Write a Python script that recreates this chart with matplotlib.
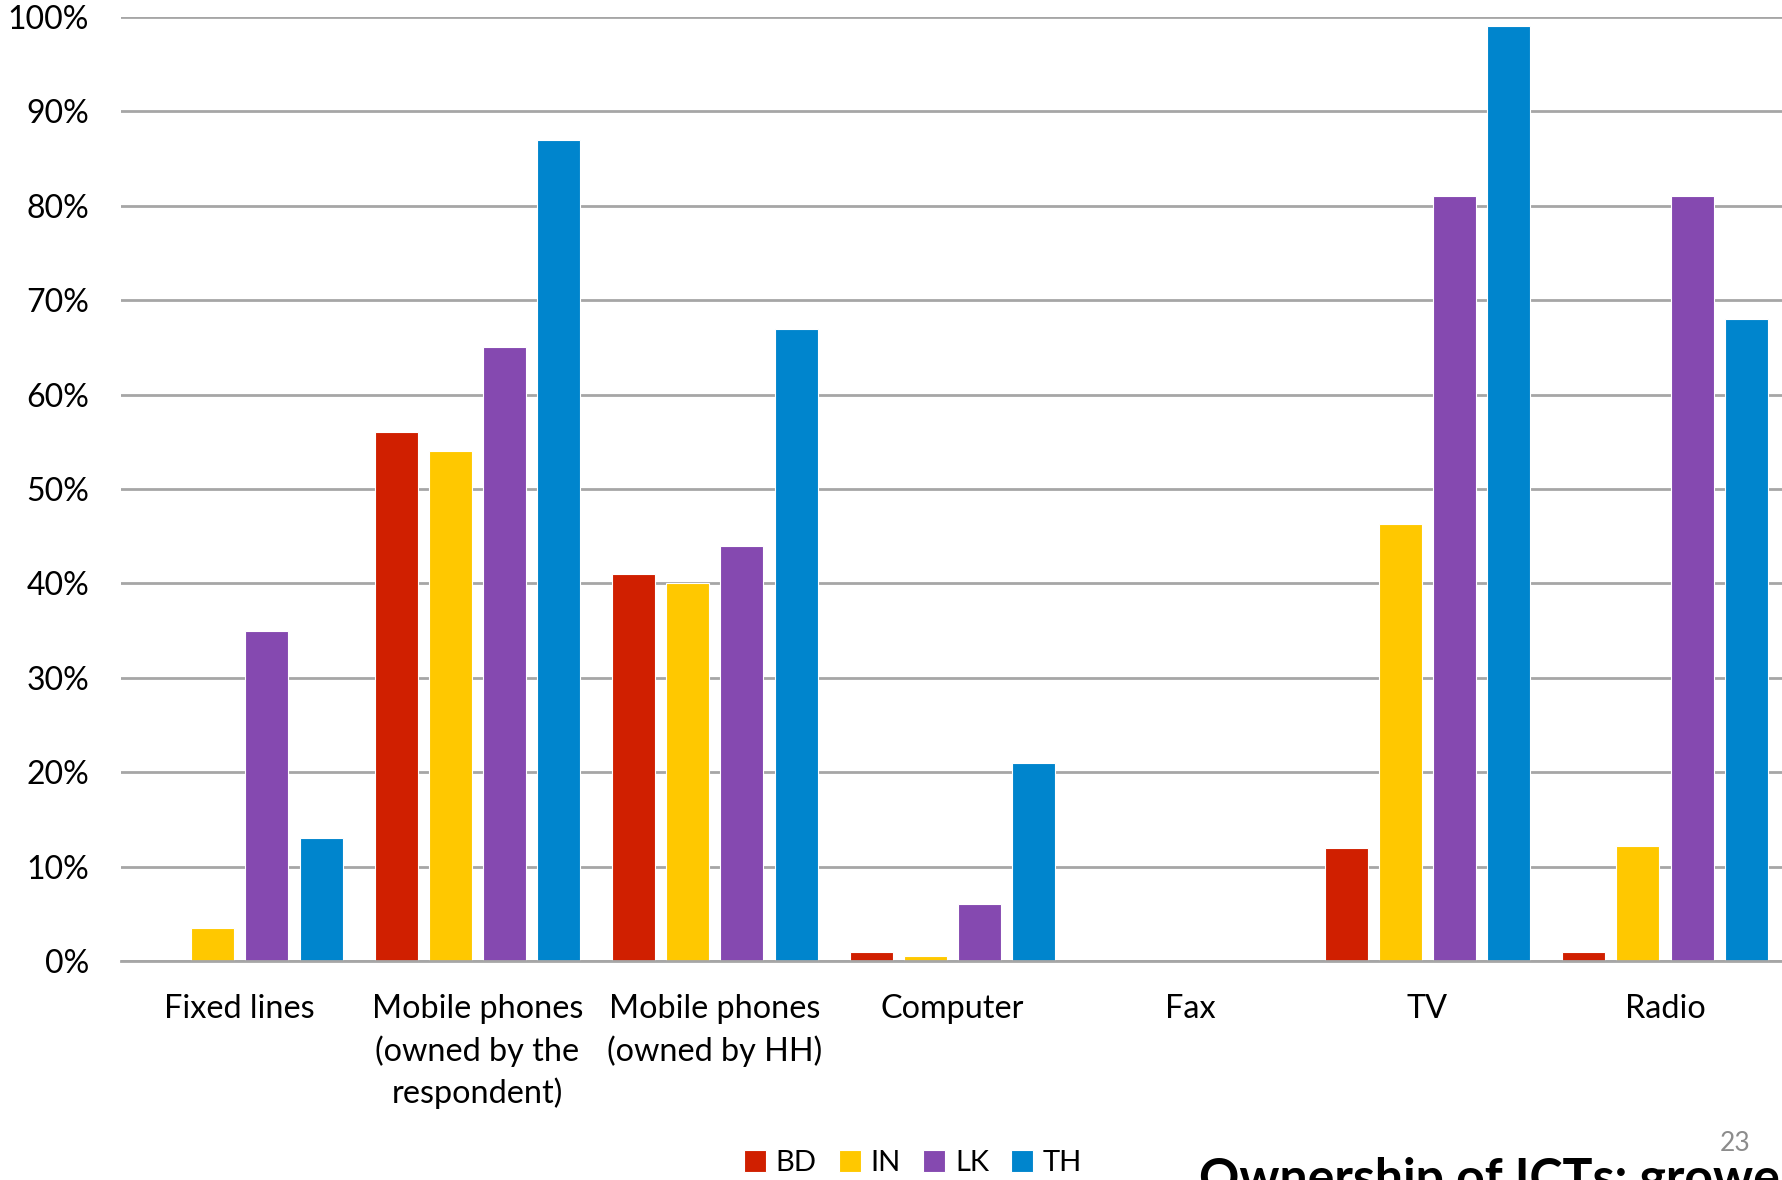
import numpy as np
import matplotlib
matplotlib.use("Agg")
import matplotlib.pyplot as plt
from matplotlib.ticker import PercentFormatter

# ownership of ICTs, % of respondents
categories = ["Fixed lines", "Mobile phones\n(owned by the\nrespondent)",
              "Mobile phones\n(owned by HH)", "Computer", "Fax", "TV", "Radio"]
countries = ["BD", "IN", "LK", "TH"]
bd = [0, 56, 41, 1, 0, 12, 1]
india = [3.5, 54, 40, 0.5, 0, 46.3, 12.2]
lk = [35, 65, 44, 6, 0, 81, 81]
th = [13, 87, 67, 21, 0, 99, 68]
colors = ["#D01F00", "#FFC800", "#8549B0", "#0085CD"]

plt.rcParams['font.family'] = ['Lato', 'DejaVu Sans']

fig = plt.figure(figsize=(17.82, 11.8), dpi=100)
ax = fig.add_axes([121 / 1782, 219 / 1180, 1 - 121 / 1782 + 0.001, (961 - 17) / 1180])

x = np.arange(len(categories))
pitch = 0.228
width = 0.181
series = [bd, india, lk, th]
for i, (vals, c, name) in enumerate(zip(series, colors, countries)):
    v = np.array(vals, dtype=float)
    v[v == 0] = np.nan
    ax.bar(x + (i - 1.5) * pitch, v, width, color=c, edgecolor="white",
           linewidth=0.8, label=name)

ax.set_xlim(-0.5, len(categories) - 0.5)
ax.set_ylim(0, 100)
ax.set_yticks(np.arange(0, 101, 10))
ax.yaxis.set_major_formatter(PercentFormatter(decimals=0))
ax.set_xticks(x)
ax.set_xticklabels(categories, linespacing=1.42)
ax.tick_params(axis="y", length=0, pad=23, labelsize=23)
ax.tick_params(axis="x", length=0, pad=24, labelsize=23.3)

ax.set_axisbelow(True)
ax.grid(axis="y", color="#A6A6A6", linewidth=2)
for s in ["top", "right", "left"]:
    ax.spines[s].set_visible(False)
ax.spines["bottom"].set_color("#A6A6A6")
ax.spines["bottom"].set_linewidth(2)

fig.legend(loc="center", bbox_to_anchor=(913 / 1782, 17 / 1180), ncol=4,
           frameon=False, fontsize=21, handlelength=0.75, handleheight=0.75,
           handletextpad=0.35, columnspacing=0.75)

fig.text(1720 / 1782, 29 / 1180, "23", fontsize=19, color="#8C8C8C")
fig.text(1199 / 1782, -14 / 1180, "Ownership of ICTs: growers", fontsize=36,
         fontweight="bold", color="black")

fig.savefig("out.png", dpi=100)
